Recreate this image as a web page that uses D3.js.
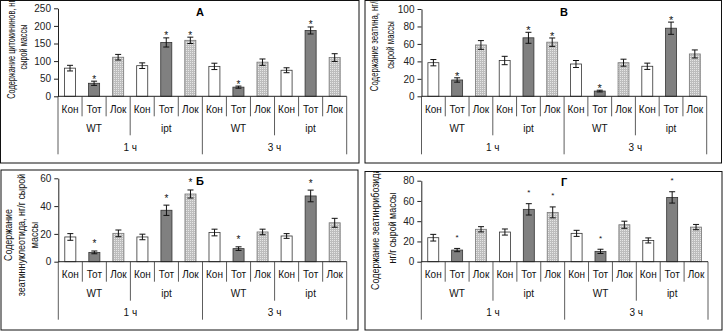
<!DOCTYPE html>
<html>
<head>
<meta charset="utf-8">
<script src="https://cdn.jsdelivr.net/npm/d3@7"></script>
<style>
  body { margin: 0; background: #fff; }
  svg { display: block; font-family: "Liberation Sans", Arial, sans-serif; }
</style>
</head>
<body>
<script>
// categories (three levels of the Excel-style axis)
const treatments = ["Кон", "Тот", "Лок"];
const plants = ["WT", "ipt"];
const times = ["1 ч", "3 ч"];

// values, order: 1ч WT, 1ч ipt, 3ч WT, 3ч ipt (Кон, Тот, Лок each)
const cytokinins    = [80, 37, 111, 87, 153, 159, 85, 26, 97, 74, 187, 110];
const cytokininsErr = [8, 6, 8, 8, 13, 9, 9, 3, 9, 7, 10, 11];
const zeatin        = [38.5, 18.7, 58.8, 41, 67, 62, 37, 6, 38.5, 34.4, 78, 48.5];
const zeatinErr     = [3.6, 2.5, 5, 4.8, 6.3, 4.8, 4, 1, 4, 3.6, 7, 4.6];
const zeatinNucl    = [17.8, 6.7, 20.4, 17.8, 37, 48.7, 21, 9.4, 21.4, 18.5, 47.3, 28];
const zeatinNuclErr = [2.4, 1, 2.4, 2, 3.7, 2.9, 2.4, 1.3, 2, 1.7, 4.2, 3.2];
const zeatinRib     = [23.7, 11.5, 32, 29.3, 51.7, 48.7, 28, 10.2, 36.5, 21, 63.5, 34.2];
const zeatinRibErr  = [3.3, 1.6, 2.6, 3, 5.6, 5.4, 3, 2.1, 3.5, 2.5, 5.6, 2.6];
const significant   = [0, 1, 0, 0, 1, 1, 0, 1, 0, 0, 1, 0];

const ticksA = [0, 50, 100, 150, 200, 250];
const ticksB = [0, 20, 40, 60, 80, 100];
const ticksC = [0, 20, 40, 60];
const ticksD = [0, 20, 40, 60, 80];

const W = 723, H = 331;

const svg = d3.select("body").append("svg")
    .attr("width", W)
    .attr("height", H);

const defs = svg.append("defs");
// dotted light grey fill of the "Лок" bars
const pat = defs.append("pattern")
    .attr("id", "dots")
    .attr("width", 2).attr("height", 2)
    .attr("patternUnits", "userSpaceOnUse");
pat.append("rect").attr("width", 2).attr("height", 2).attr("fill", "#bdbdbd");
pat.append("rect").attr("width", 1).attr("height", 1).attr("fill", "#e6e6e6");

const fills = ["#ffffff", "#808080", "url(#dots)"];
const strokes = ["#333", "#333", "#777"];

const panels = [
  { id: "a", box: [0.5, 0.5, 359, 163], plot: [58, 346.7, 96.3, 8.3],
    values: cytokinins, err: cytokininsErr, ticks: ticksA, letter: "А", letterPos: [200, 12],
    title: ["Содержание цитокининов, нг/г", "сырой массы"], titleX: [11, 23], titleY: 47, titleK: 0.7, starGap: 4, starSize: 10 },
  { id: "b", box: [365, 0.5, 721.5, 163], plot: [421.5, 706.7, 96.3, 9],
    values: zeatin, err: zeatinErr, ticks: ticksB, letter: "В", letterPos: [564, 12],
    title: ["Содержание зеатина, нг/г", "сырой массы"], titleX: [9, 25], titleY: 45, titleK: 0.74, starGap: 4, starSize: 11 },
  { id: "c", box: [1, 170, 358, 330], plot: [58.3, 346.7, 261.7, 178.3],
    values: zeatinNucl, err: zeatinNuclErr, ticks: ticksC, letter: "Б", letterPos: [200, 181],
    title: ["Содержание", "зеатиннуклеотида, нг/г сырой", "массы"], titleX: [7, 20, 33], titleY: 235, titleK: 0.85, starGap: 9, starSize: 10 },
  { id: "d", box: [365, 171.5, 722, 330], plot: [421.3, 708, 261.7, 180.7],
    values: zeatinRib, err: zeatinRibErr, ticks: ticksD, letter: "Г", letterPos: [564, 182],
    title: ["Содержание зеатинрибозида,", "нг/г  сырой массы"], titleX: [10, 27], titleY: 228, titleK: 0.85, starGap: 13, starSize: 8 }
];

panels.forEach(drawPanel);

function drawPanel(p) {
  const [bx0, by0, bx1, by1] = p.box;
  const [left, right, y0, yTop] = p.plot;

  defs.append("clipPath").attr("id", "clip-" + p.id)
    .append("rect").attr("x", bx0).attr("y", by0)
    .attr("width", bx1 - bx0).attr("height", by1 - by0);

  const g = svg.append("g").attr("clip-path", "url(#clip-" + p.id + ")");

  const rows = p.values.map((v, i) => ({ i: i, v: v, e: p.err[i], sig: significant[i] }));

  const x = d3.scaleBand().domain(rows.map(r => r.i)).range([left, right]).padding(0);
  const y = d3.scaleLinear()
      .domain([0, p.ticks[p.ticks.length - 1]])
      .range([y0, yTop]);
  const barW = x.bandwidth() * 0.46;
  const cx = i => x(i) + x.bandwidth() / 2;

  // y axis
  g.append("g")
    .attr("transform", "translate(" + left + ",0)")
    .call(d3.axisLeft(y).tickValues(p.ticks).tickSize(4).tickSizeOuter(0).tickPadding(3))
    .call(a => a.select(".domain").attr("stroke", "#222"))
    .call(a => a.selectAll(".tick line").attr("stroke", "#222"))
    .call(a => a.selectAll("text").attr("font-size", 10).attr("fill", "#222")
                 .attr("font-family", "'Liberation Sans', Arial, sans-serif"));

  // bars
  g.selectAll("rect.bar").data(rows).enter()
    .append("rect").attr("class", "bar")
    .attr("x", d => cx(d.i) - barW / 2)
    .attr("y", d => y(d.v))
    .attr("width", barW)
    .attr("height", d => y0 - y(d.v))
    .attr("fill", d => fills[d.i % 3])
    .attr("stroke", d => strokes[d.i % 3])
    .attr("stroke-width", 0.8);

  // error bars
  const eb = g.selectAll("g.err").data(rows).enter().append("g")
    .attr("class", "err")
    .attr("stroke", "#111").attr("stroke-width", 1);
  eb.append("line")
    .attr("x1", d => cx(d.i)).attr("x2", d => cx(d.i))
    .attr("y1", d => y(d.v + d.e)).attr("y2", d => y(d.v - d.e));
  eb.append("line")
    .attr("x1", d => cx(d.i) - 3).attr("x2", d => cx(d.i) + 3)
    .attr("y1", d => y(d.v + d.e)).attr("y2", d => y(d.v + d.e));
  eb.append("line")
    .attr("x1", d => cx(d.i) - 3).attr("x2", d => cx(d.i) + 3)
    .attr("y1", d => y(d.v - d.e)).attr("y2", d => y(d.v - d.e));

  // significance marks
  g.selectAll("text.star").data(rows.filter(r => r.sig)).enter()
    .append("text").attr("class", "star")
    .attr("x", d => cx(d.i))
    .attr("y", d => y(d.v + d.e) - p.starGap + p.starSize * 0.55)
    .attr("text-anchor", "middle")
    .attr("font-size", p.starSize)
    .attr("fill", "#111")
    .text("*");

  // category axis: baseline and multi-level dividers
  g.append("line")
    .attr("x1", left).attr("x2", right).attr("y1", y0).attr("y2", y0)
    .attr("stroke", "#222");
  const n = rows.length;
  d3.range(n + 1).forEach(k => {
    let len = 20;
    if (k % 3 === 0) len = 39;
    if (k % 6 === 0) len = 58;
    g.append("line")
      .attr("x1", left + k * x.step()).attr("x2", left + k * x.step())
      .attr("y1", y0).attr("y2", y0 + len)
      .attr("stroke", "#333").attr("stroke-width", 0.8);
  });

  const lab = g.append("g").attr("font-size", 10).attr("fill", "#111").attr("text-anchor", "middle");
  rows.forEach(r => {
    lab.append("text").attr("x", cx(r.i)).attr("y", y0 + 16.5).text(treatments[r.i % 3]);
  });
  d3.range(n / 3).forEach(j => {
    lab.append("text").attr("x", left + (j * 3 + 1.5) * x.step()).attr("y", y0 + 35.5)
      .text(plants[j % 2]);
  });
  d3.range(n / 6).forEach(j => {
    lab.append("text").attr("x", left + (j * 6 + 3) * x.step()).attr("y", y0 + 54.5)
      .text(times[j]);
  });

  // panel letter
  g.append("text")
    .attr("x", p.letterPos[0]).attr("y", p.letterPos[1] + 4)
    .attr("text-anchor", "middle")
    .attr("font-size", 11).attr("font-weight", "bold")
    .text(p.letter);

  // rotated y title (squeezed like the original)
  p.title.forEach((t, k) => {
    g.append("text")
      .attr("transform", "translate(" + (bx0 + p.titleX[k] + 3.5) + "," + p.titleY + ") scale(1," + p.titleK + ") rotate(-90)")
      .attr("text-anchor", "middle")
      .attr("font-size", 10.5)
      .attr("fill", "#111")
      .text(t);
  });

  // panel frame
  svg.append("rect")
    .attr("x", bx0).attr("y", by0)
    .attr("width", bx1 - bx0).attr("height", by1 - by0)
    .attr("fill", "none").attr("stroke", "#111").attr("stroke-width", 1);
}
</script>
</body>
</html>
